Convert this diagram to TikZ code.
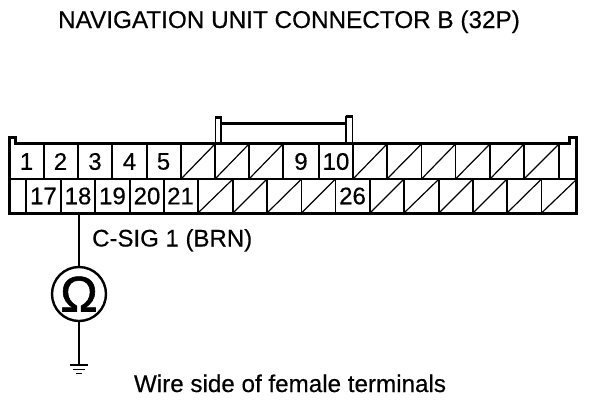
\documentclass[tikz,border=0pt]{standalone}
\usepackage{fontspec}
\setmainfont[RawFeature={embolden=0.4}]{Liberation Sans}
\newfontfamily\ohmfont[RawFeature={embolden=1.2}]{Liberation Sans}
\tikzset{
  heavy/.style={line width=3pt},
  cellline/.style={line width=1.8pt},
  hatchline/.style={line width=1.2pt},
  num/.style={font=\fontsize{24}{24}\selectfont, inner sep=0pt, anchor=center},
  lab/.style={font=\fontsize{24}{24}\selectfont, inner sep=0pt, anchor=base},
  wire/.style={line width=2.4pt},
  meter/.style={circle, draw, line width=2.4pt, minimum size=54pt, inner sep=0pt, font=\ohmfont\fontsize{50}{50}\selectfont}
}
\begin{document}
\begin{tikzpicture}[x=1pt,y=-1pt]
\useasboundingbox (0,0) rectangle (608,400);
\fill[white] (0,0) rectangle (608,400);
% cell dividers
\foreach \x in {44,78,112,147,181,215,249,283,319,353,387,421.5,455.5,490,524,559}
  \draw[cellline] (\x,144) -- (\x,179);
\foreach \x in {26,61,95,130,164,198,233,267,301.5,335.5,370,404,439,473,507,541.5}
  \draw[cellline] (\x,179) -- (\x,213);
\draw[cellline] (9,179) -- (577,179);
% hatches
\foreach \a/\b in {181/215,215/249,249/283,353/387,387/421.5,421.5/455.5,455.5/490,490/524,524/559}
  \draw[hatchline] (\a,179) -- (\b,144);
\foreach \a/\b in {198/233,233/267,267/301.5,301.5/335.5,370/404,404/439,439/473,473/507,507/541.5,541.5/577}
  \draw[hatchline] (\a,213) -- (\b,179);
% outline
\draw[heavy, line join=miter] (15,143.5) -- (15,137.5) -- (9.5,137.5) -- (9.5,213) -- (576.5,213) -- (576.5,137.5) -- (569,137.5) -- (569,143.5) -- cycle;
% latch
\draw[cellline] (215.5,143) -- (215.5,117) -- (221,117) -- (221,143);
\draw[heavy] (215,117) -- (221.5,117);
\draw[line width=2.4pt] (221,123.5) -- (346,123.5);
\draw[cellline] (346,143) -- (346,116.5) -- (352.5,116.5) -- (352.5,143);
\draw[heavy] (345.5,116.5) -- (353,116.5);
% numbers
\foreach \t/\x in {1/26.5,2/60.5,3/95,4/129.5,5/163.5,9/301,10/336}
  \node[num] (t\t) at (\x,161.5) {\t};
\foreach \t/\x in {17/43.5,18/78,19/112.5,20/147,21/180.5,26/352.5}
  \node[num] (t\t) at (\x,196) {\t};
% texts
\node[lab, font=\fontsize{24.3}{24}\selectfont] (title) at (289,28) {NAVIGATION UNIT CONNECTOR B (32P)};
\node[lab, anchor=base west] (sig) at (92,246.5) {C-SIG 1 (BRN)};
\node[lab, font=\fontsize{24.2}{24}\selectfont] (side) at (290,392) {Wire side of female terminals};
% meter
\coordinate (pin) at (79,213);
\node[meter] (ohm) at (79,294) {Ω};
\coordinate (gnd) at (79,365);
\draw[wire] (pin) -- (ohm);
\draw[wire] (ohm) -- (gnd);
\coordinate (g1l) at (70,365); \coordinate (g1r) at (88,365);
\coordinate (g2l) at (73,369.5); \coordinate (g2r) at (85,369.5);
\coordinate (g3l) at (76,373.5); \coordinate (g3r) at (82,373.5);
\draw[wire] (g1l) -- (g1r);
\draw[line width=1.8pt] (g2l) -- (g2r);
\draw[line width=1.8pt] (g3l) -- (g3r);
\end{tikzpicture}
\end{document}
